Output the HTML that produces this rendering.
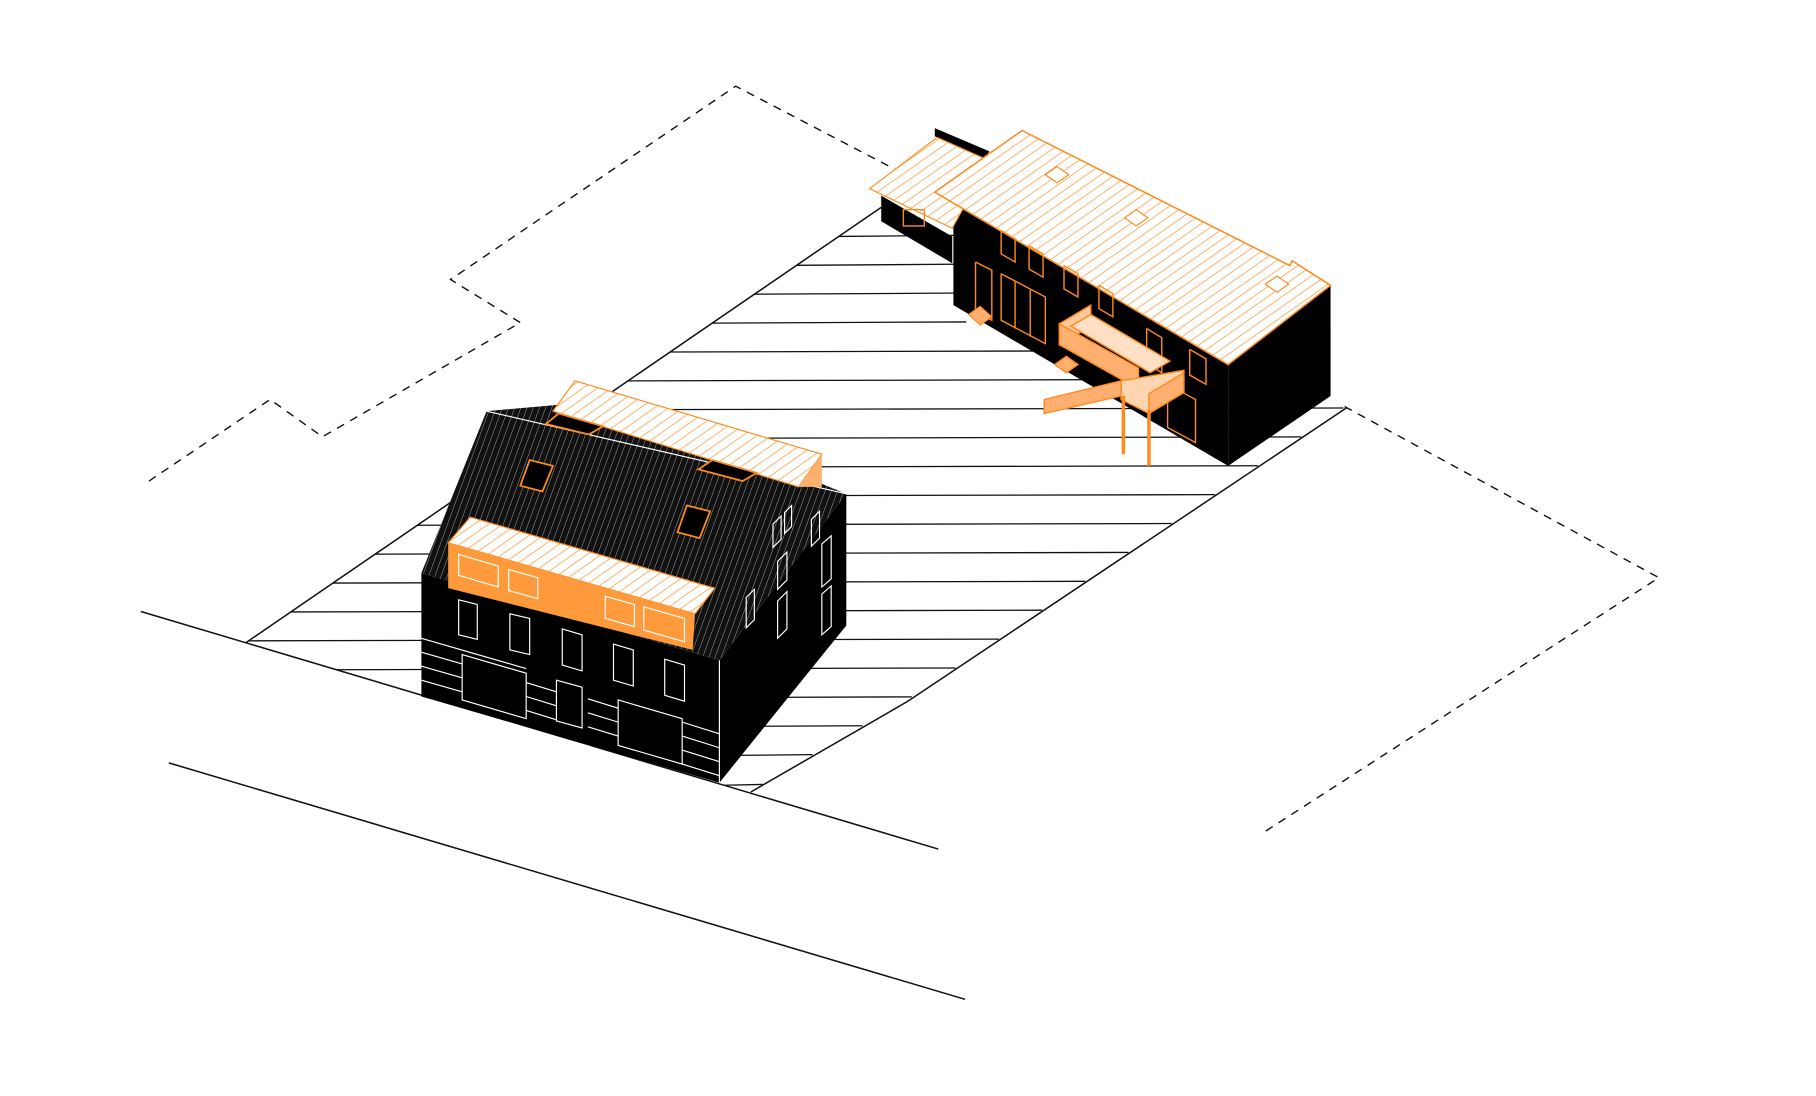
<!DOCTYPE html>
<html><head><meta charset="utf-8"><style>html,body{margin:0;padding:0;background:#fff}svg{display:block}</style></head>
<body>
<svg width="1816" height="1096" viewBox="0 0 1560 941" preserveAspectRatio="none" xmlns="http://www.w3.org/2000/svg">
<defs>
<pattern id="oh" width="7" height="7" patternUnits="userSpaceOnUse" patternTransform="rotate(55)">
<rect width="7" height="7" fill="#fff"/><line x1="0" y1="0" x2="0" y2="7" stroke="#ff8a1e" stroke-width="1.1"/></pattern>
<pattern id="dh" width="5" height="5" patternUnits="userSpaceOnUse" patternTransform="rotate(20)">
<rect width="5" height="5" fill="#111"/><line x1="0" y1="0" x2="0" y2="5" stroke="#bbb" stroke-width="0.7"/></pattern>
</defs>
<g fill="none" stroke="#111" stroke-width="1.2" stroke-dasharray="7,6">
<polyline points="128,413 232,343 277,375 447,277 387,240 632,74 770,146"/>
<polyline points="1155,349 1425,496 1085,715"/>
</g>
<g stroke="#111" stroke-width="1.3">
<line x1="121" y1="525" x2="806" y2="729"/>
<line x1="145" y1="655" x2="829" y2="858"/>
<line x1="211" y1="552" x2="757" y2="178"/>
<polyline fill="none" points="645,680 780,602 1157,350"/>
</g>
<g stroke="#111" stroke-width="1.1">
<line x1="720.5" y1="203" x2="830" y2="202"/>
<line x1="684.3" y1="227.8" x2="830" y2="226.8"/>
<line x1="648.1" y1="252.6" x2="830" y2="251.6"/>
<line x1="611.9" y1="277.4" x2="830" y2="276.4"/>
<line x1="575.7" y1="302.2" x2="1140" y2="300.7"/>
<line x1="539.5" y1="327" x2="1140" y2="325.5"/>
<line x1="503.3" y1="351.8" x2="1154" y2="350.3"/>
<line x1="467.1" y1="376.6" x2="1117.8" y2="375.1"/>
<line x1="430.9" y1="401.4" x2="1080.7" y2="399.9"/>
<line x1="394.7" y1="426.2" x2="1043.6" y2="424.7"/>
<line x1="358.5" y1="451" x2="1006.5" y2="449.5"/>
<line x1="322.3" y1="475.8" x2="969.4" y2="474.3"/>
<line x1="286.1" y1="500.6" x2="932.3" y2="499.1"/>
<line x1="249.9" y1="525.4" x2="895.2" y2="523.9"/>
<line x1="213.7" y1="550.2" x2="858.1" y2="548.7"/>
<line x1="288.9" y1="575" x2="820.9" y2="573.5"/>
<line x1="372.2" y1="599.8" x2="783.3" y2="598.3"/>
<line x1="455.5" y1="624.6" x2="740.9" y2="623.1"/>
<line x1="538.7" y1="649.4" x2="698" y2="647.9"/>
<line x1="622" y1="674.2" x2="655" y2="673.5"/>
</g>
<!-- right building -->
<polygon points="757,168 818,203 818,226 757,190" fill="#000"/>
<polygon points="819,175 1055,313 1055,400 819,262" fill="#000"/>
<polygon points="1055,313 1143,245 1143,340 1055,400" fill="#000"/>
<polygon points="803,110 850,130 845,137 803,117" fill="#000"/>
<polygon points="747,162 805,118 850,138 818,196" fill="url(#oh)" stroke="#ff8a1e"/>
<polygon points="803,165 878,112 1108,228 1110,224 1143,245 1055,313 968,262" fill="url(#oh)" stroke="#ff8a1e" stroke-width="1.3"/>
<g fill="#fff" stroke="#ff8a1e"><polygon points="898,150 908,143 918,150 908,157"/><polygon points="966,187 976,180 986,187 976,194"/><polygon points="1087,244 1097,237 1107,244 1097,251"/></g>
<g fill="none" stroke="#ff8a1e" stroke-width="1.2">
<rect x="776" y="180" width="18" height="14"/>
<polyline points="860,198 872,205 872,225 860,218 860,198"/>
<polyline points="884,211 896,218 896,238 884,231 884,211"/>
<polyline points="914,228 926,235 926,255 914,248 914,228"/>
<polyline points="944,245 956,252 956,272 944,265 944,245"/>
<polyline points="838,225 852,232 852,275 838,268 838,225"/>
<polyline points="860,235 898,255 898,295 860,275 860,235"/>
<line x1="872" y1="242" x2="872" y2="282"/><line x1="885" y1="249" x2="885" y2="289"/>
<polyline points="1022,300 1036,308 1036,330 1022,322 1022,300"/>
<polyline points="1003,330 1027,343 1027,380 1003,367 1003,330"/>
<polyline points="985,282 998,290 998,320 985,312 985,282"/>
</g>
<polygon points="832,270 842,263 852,272 842,279" fill="#ffb070" stroke="#ff8a1e"/>
<!-- balcony -->
<g stroke="#ff8a1e" stroke-width="1.2">
<polygon points="910,278 937,262 937,280 910,296" fill="#ffc99a"/>
<polygon points="910,278 978,316 978,334 910,296" fill="#ffb070"/>
<polygon points="920,280 937,270 1005,310 988,320" fill="#ffe0c4"/>
<polygon points="963,327 1017,318 1017,337 987,355 963,343" fill="#ffd5b0"/>
<polygon points="897,343 963,327 963,340 897,355" fill="#ffb070"/>
<polygon points="987,338 1017,320 1017,337 987,355" fill="#ffb070"/>
<polygon points="906,313 916,306 926,313 916,320" fill="#ffb070"/>
<line x1="965" y1="340" x2="965" y2="390" stroke-width="3"/>
<line x1="987" y1="352" x2="987" y2="400" stroke-width="3"/>
</g>
<!-- left building -->
<polygon points="362,492 418,353 508,345 705,415 727,424 618,567" fill="url(#dh)"/>
<polygon points="362,492 618,567 618,672 362,598" fill="#000"/>
<polygon points="618,567 727,424 727,537 618,672" fill="#000"/>
<line x1="418" y1="353" x2="727" y2="424" stroke="#fff" stroke-width="1"/>
<polygon points="475,353 494,327 706,390 686,418" fill="url(#oh)" stroke="#ff8a1e"/>
<polygon points="686,418 706,390 706,418" fill="#ffb070"/>
<polygon points="385,466 404,444 614,505 597,527" fill="url(#oh)" stroke="#ff8a1e"/>
<polygon points="385,466 597,527 595,558 385,505" fill="#ff9a3c"/>
<g fill="#000" stroke="#ff8a1e" stroke-width="1.5">
<polygon points="455,395 475,400 466,422 447,417"/><polygon points="590,434 610,439 601,462 582,457"/>
<polygon points="469,364 480,355 518,366 506,373"/><polygon points="600,403 612,395 650,406 638,413"/>
</g>
<g fill="none" stroke="#fff" stroke-width="1">
<polygon points="394,476 428,486 428,504 394,494"/><polygon points="437,489 462,496 462,514 437,507"/>
<polygon points="520,512 545,519 545,538 520,531"/><polygon points="553,521 588,531 588,551 553,541"/>
<polygon points="394,515 410,519 410,549 394,545"/><polygon points="438,527 455,531 455,562 438,558"/>
<polygon points="483,540 500,545 500,576 483,571"/><polygon points="527,553 544,558 544,589 527,584"/>
<polygon points="571,566 588,571 588,602 571,597"/>
<polygon points="397,562 452,578 452,617 397,601"/><polygon points="531,601 586,617 586,656 531,640"/>
<polygon points="478,584 500,590 500,625 478,619"/>
<polyline points="362,548 452,574"/><polyline points="362,560 397,570"/><polyline points="362,572 397,582"/><polyline points="362,584 397,594"/>
<polyline points="452,586 478,594"/><polyline points="452,598 478,606"/><polyline points="452,610 478,618"/>
<polyline points="505,600 531,608"/><polyline points="505,612 531,620"/><polyline points="505,624 531,632"/>
<polyline points="586,620 618,630"/><polyline points="586,632 618,642"/><polyline points="586,644 618,654"/><polyline points="586,656 618,666"/>
<polyline points="475,632 507,641"/><polyline points="473,636 507,646"/>
<line x1="618" y1="567" x2="618" y2="672"/>
<polygon points="664,450 671,443 671,463 664,470"/><polygon points="674,440 680,434 680,452 674,458"/>
<polygon points="697,446 704,439 704,462 697,469"/><polygon points="706,467 714,460 714,497 706,504"/>
<polygon points="668,482 676,474 676,498 668,506"/><polygon points="668,516 676,508 676,540 668,548"/>
<polygon points="641,513 648,506 648,532 641,539"/><polygon points="706,510 714,503 714,538 706,545"/>
</g>
</svg>
</body></html>
